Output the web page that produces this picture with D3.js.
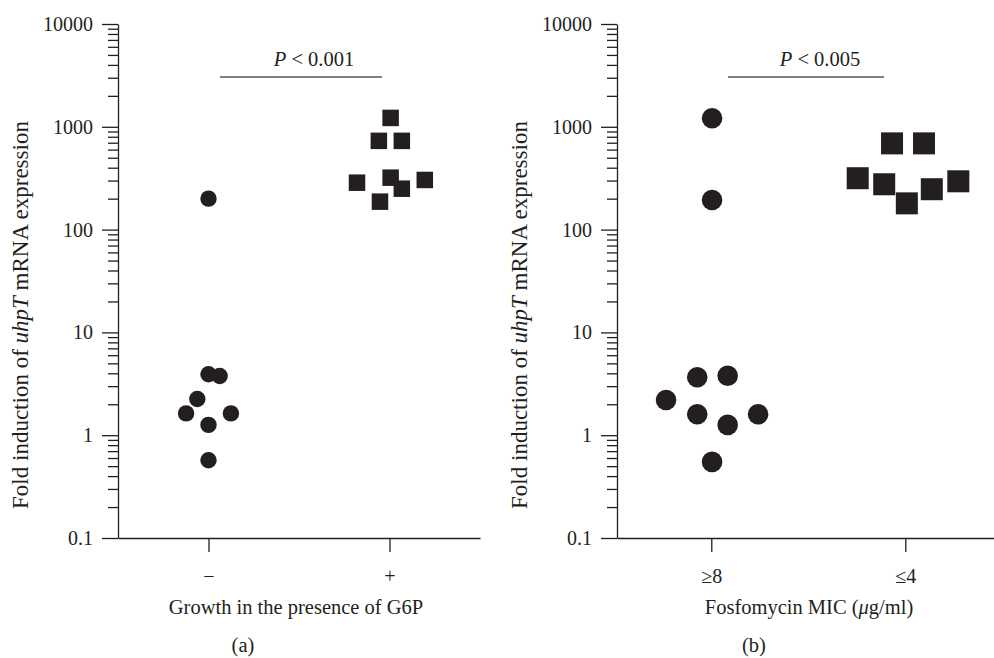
<!DOCTYPE html>
<html>
<head>
<meta charset="utf-8">
<script src="https://cdn.jsdelivr.net/npm/d3@7"></script>
<style>
  body { margin: 0; background: #fff; }
  text { font-family: "Liberation Serif", "Times New Roman", serif; fill: #231f20; }
</style>
</head>
<body>
<div id="chart"></div>
<script>
// y ticks shared by both panels
const yTicks = [0.1, 1, 10, 100, 1000, 10000];

// panel (a): growth with G6P
const groupsA = ['\u2212', '+'];
const circlesA = [200, 3.91, 3.77, 2.25, 1.63, 1.63, 1.26, 0.57];
const circlesADodge = [0, 0, 1, -1, -2, 2, 0, 0];
const squaresA = [1220, 730, 730, 286, 320, 250, 304, 187];
const squaresADodge = [0.1, -0.95, 1.1, -2.9, 0.1, 1.1, 3.15, -0.85];

// panel (b): fosfomycin MIC
const groupsB = ['\u22658', '\u22644'];
const circlesB = [1210, 194, 3.66, 3.79, 2.2, 1.6, 1.26, 1.6, 0.55];
const circlesBDodge = [0.05, 0.05, -0.9, 1.05, -2.9, -0.9, 1.05, 3, 0.05];
const squaresB = [690, 690, 316, 276, 180, 247, 295];
const squaresBDodge = [-0.85, 1.2, -3.05, -1.35, 0.1, 1.7, 3.4];

const ink = '#231f20';
const W = 994, H = 658;

const svg = d3.select('#chart').append('svg')
  .attr('width', W).attr('height', H);

const y = d3.scaleLog().domain([0.1, 10000]).range([538, 24]);

// minor ticks 2..9 in every decade
const minorTicks = [];
yTicks.slice(0, -1).forEach((d) => {
  for (let k = 2; k < 10; k++) minorTicks.push(d * k);
});

const drawPanel = (p) => {
  const g = svg.append('g');

  const x = d3.scalePoint()
    .domain(p.groups)
    .range([p.axisX, p.xEnd])
    .padding(0.5)
    .align(p.align);

  // y axis, major
  g.append('g')
    .attr('transform', `translate(${p.axisX},0)`)
    .call(d3.axisLeft(y).tickValues(yTicks).tickSize(16).tickSizeOuter(0)
      .tickPadding(9).tickFormat((d) => `${d}`))
    .call((a) => a.selectAll('text').style('font-size', '20px')
      .attr('font-family', null).attr('fill', ink));

  // y axis, minor
  g.append('g')
    .attr('transform', `translate(${p.axisX},0)`)
    .call(d3.axisLeft(y).tickValues(minorTicks).tickSize(10).tickFormat(''))
    .call((a) => a.select('.domain').remove());

  // x axis
  g.append('g')
    .attr('transform', `translate(0,${y(0.1)})`)
    .call(d3.axisBottom(x).tickSize(14).tickSizeOuter(0).tickPadding(17))
    .call((a) => a.selectAll('text').style('font-size', '20px')
      .attr('font-family', null).attr('fill', ink));

  g.selectAll('.domain, .tick line')
    .attr('stroke', ink).attr('stroke-width', 1.3);

  // circles (first group)
  g.selectAll('circle.pt')
    .data(p.circles)
    .enter()
    .append('circle')
    .attr('class', 'pt')
    .attr('cx', (d, i) => x(p.groups[0]) + p.circleDodge[i] * p.slot)
    .attr('cy', (d) => y(d))
    .attr('r', p.r)
    .attr('fill', ink);

  // squares (second group)
  g.selectAll('rect.pt')
    .data(p.squares)
    .enter()
    .append('rect')
    .attr('class', 'pt')
    .attr('x', (d, i) => x(p.groups[1]) + p.squareDodge[i] * p.slot - p.s / 2)
    .attr('y', (d) => y(d) - p.s / 2)
    .attr('width', p.s)
    .attr('height', p.s)
    .attr('fill', ink);

  // significance bar
  g.append('line')
    .attr('x1', p.barX[0]).attr('x2', p.barX[1])
    .attr('y1', 77).attr('y2', 77)
    .attr('stroke', '#555').attr('stroke-width', 1.3);
  const pt = g.append('text')
    .attr('x', p.pX).attr('y', 66)
    .attr('text-anchor', 'middle')
    .style('font-size', '20.5px');
  pt.append('tspan').style('font-style', 'italic').text('P');
  pt.append('tspan').text(` < ${p.pValue}`);

  // y label
  const yl = g.append('text')
    .attr('transform', `translate(${p.axisX - 90},315) rotate(-90)`)
    .attr('text-anchor', 'middle')
    .style('font-size', '23px');
  yl.append('tspan').text('Fold induction of ');
  yl.append('tspan').style('font-style', 'italic').text('uhpT');
  yl.append('tspan').text(' mRNA expression');

  // x title
  const xt = g.append('text')
    .attr('x', p.titleX).attr('y', 614)
    .attr('text-anchor', 'middle')
    .style('font-size', '20.5px');
  p.title.forEach((part) => {
    xt.append('tspan').style('font-style', part.it ? 'italic' : null).text(part.t);
  });

  // panel letter
  g.append('text')
    .attr('x', p.letterX).attr('y', 652)
    .attr('text-anchor', 'middle')
    .style('font-size', '20.5px')
    .text(p.letter);
};

drawPanel({
  groups: groupsA, circles: circlesA, circleDodge: circlesADodge,
  squares: squaresA, squareDodge: squaresADodge,
  axisX: 118, xEnd: 480, align: 0.5, slot: 11.2, r: 8.2, s: 16.5,
  barX: [220, 382], pX: 314, pValue: '0.001',
  title: [{ t: 'Growth in the presence of G6P' }], titleX: 296,
  letter: '(a)', letterX: 243,
});

drawPanel({
  groups: groupsB, circles: circlesB, circleDodge: circlesBDodge,
  squares: squaresB, squareDodge: squaresBDodge,
  axisX: 617, xEnd: 1005, align: 0.486, slot: 15.6, r: 10.3, s: 22,
  barX: [728, 884], pX: 820, pValue: '0.005',
  title: [{ t: 'Fosfomycin MIC (' }, { t: '\u03bc', it: true }, { t: 'g/ml)' }], titleX: 809,
  letter: '(b)', letterX: 754,
});
</script>
</body>
</html>
